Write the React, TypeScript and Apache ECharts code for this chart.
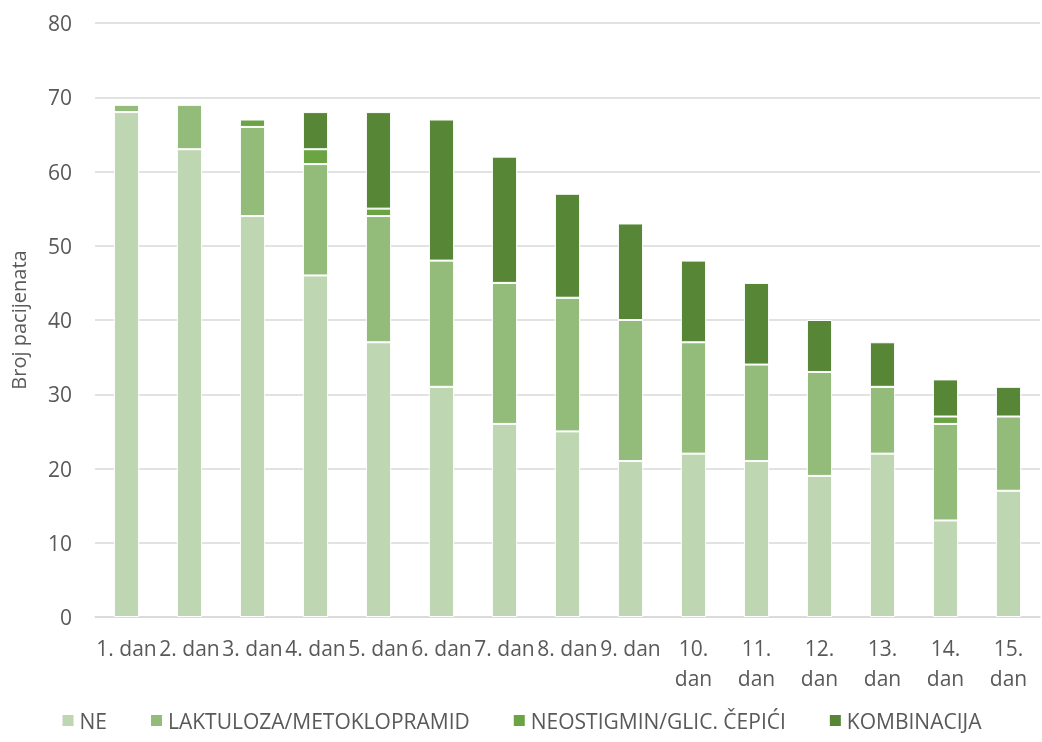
import React, { useEffect, useRef } from "react";
import * as echarts from "echarts";

const categories = ["1. dan", "2. dan", "3. dan", "4. dan", "5. dan", "6. dan", "7. dan", "8. dan", "9. dan", "10. dan", "11. dan", "12. dan", "13. dan", "14. dan", "15. dan"];
const ne = [68, 63, 54, 46, 37, 31, 26, 25, 21, 22, 21, 19, 22, 13, 17];
const laktuloza = [1, 6, 12, 15, 17, 17, 19, 18, 19, 15, 13, 14, 9, 13, 10];
const neostigmin = [0, 0, 1, 2, 1, 0, 0, 0, 0, 0, 0, 0, 0, 1, 0];
const kombinacija = [0, 0, 0, 5, 13, 19, 17, 14, 13, 11, 11, 7, 6, 5, 4];
const yTicks = [0, 10, 20, 30, 40, 50, 60, 70, 80];

const seriesNames = ["NE", "LAKTULOZA/METOKLOPRAMID", "NEOSTIGMIN/GLIC. ČEPIĆI", "KOMBINACIJA"];
const colors = ["#BED6B2", "#93BC7A", "#6AA443", "#568636"];

export default function App() {
  const ref = useRef<HTMLDivElement>(null);
  useEffect(() => {
    if (!ref.current) return;
    const chart = echarts.init(ref.current, null, { renderer: "svg" });
    const font = "'Open Sans', 'Liberation Sans', sans-serif";
    const datasets = [ne, laktuloza, neostigmin, kombinacija];
    chart.setOption({
      animation: false,
      textStyle: { fontFamily: font },
      grid: { left: 91, right: 2, top: 23, bottom: 125 },
      legend: {
        top: 705,
        left: "center",
        itemWidth: 13,
        itemHeight: 13,
        itemGap: 42,
        icon: "rect",
        textStyle: { color: "#595959", fontSize: 21, fontFamily: font },
        data: seriesNames,
      },
      xAxis: {
        type: "category",
        data: categories,
        axisLine: { lineStyle: { color: "#D9D9D9", width: 1.5 } },
        axisTick: { show: false },
        axisLabel: {
          color: "#595959",
          fontSize: 21,
          margin: 16,
          lineHeight: 30,
          interval: 0,
          formatter: (v: string) => (v.length > 6 ? v.replace(" ", "\n") : v),
        },
      },
      yAxis: {
        type: "value",
        min: yTicks[0],
        max: yTicks[yTicks.length - 1],
        interval: 10,
        name: "Broj pacijenata",
        nameLocation: "middle",
        nameGap: 67,
        nameTextStyle: { color: "#595959", fontSize: 20 },
        axisLine: { show: false },
        axisTick: { show: false },
        axisLabel: { color: "#595959", fontSize: 21, margin: 23 },
        splitLine: { lineStyle: { color: "#D9D9D9", width: 1.5 } },
      },
      series: seriesNames.map((name, i) => ({
        name,
        type: "bar",
        stack: "total",
        barWidth: "40%",
        data: datasets[i],
        itemStyle: { color: colors[i], borderColor: "#FFFFFF", borderWidth: 1 },
      })),
    });
    return () => chart.dispose();
  }, []);
  return <div ref={ref} style={{ position: "fixed", left: 0, top: 0, width: 1042, height: 742 }} />;
}
